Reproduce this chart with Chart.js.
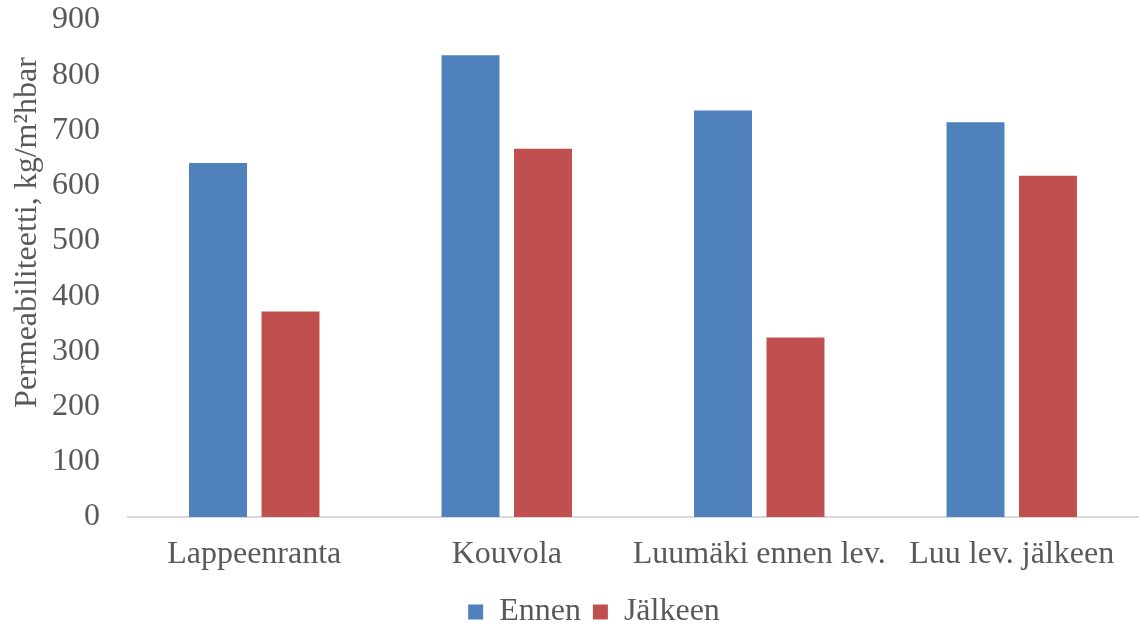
<!DOCTYPE html>
<html><head><meta charset="utf-8">
<script src="https://cdn.jsdelivr.net/npm/chart.js@4/dist/chart.umd.min.js"></script>
<style>html,body{margin:0;padding:0;background:#fff}#wrap{width:1139px;height:628px}</style>
</head><body><div id="wrap"><canvas id="c" width="1139" height="628"></canvas></div>
<script>
const categories = ["Lappeenranta", "Kouvola", "Luumäki ennen lev.", "Luu lev. jälkeen"];
const ennen = [641, 836, 736, 715];
const jalkeen = [372, 667, 325, 618];
const yTicks = [0, 100, 200, 300, 400, 500, 600, 700, 800, 900];
const font = "'Liberation Serif', 'Times New Roman', serif";
const txt = "#595959";
const legendShift = {
  id: 'legendShift',
  afterLayout(chart) {
    const lg = chart.legend;
    lg.left += 50;
    lg.top += 10; lg.bottom += 10;
  }
};
new Chart(document.getElementById('c'), {
  type: 'bar',
  data: {
    labels: categories,
    datasets: [
      {label: 'Ennen', data: ennen, backgroundColor: '#4F81BD', categoryPercentage: 0.574, barPercentage: 0.8},
      {label: 'Jälkeen', data: jalkeen, backgroundColor: '#C0504D', categoryPercentage: 0.574, barPercentage: 0.8}
    ]
  },
  plugins: [legendShift],
  options: {
    responsive: false, animation: false,
    layout: {padding: {top: 0, right: 1, left: 0, bottom: 0}},
    plugins: {
      tooltip: {enabled: false},
      legend: {position: 'bottom', labels: {font: {family: font, size: 32}, color: txt, boxWidth: 15, boxHeight: 15, padding: 12}}
    },
    scales: {
      x: {
        grid: {display: false, drawTicks: false},
        border: {display: true, color: '#d9d9d9', width: 2},
        ticks: {font: {family: font, size: 32}, color: txt, padding: 18, maxRotation: 0, autoSkip: false},
        afterFit: s => { s.height = 57; }
      },
      y: {
        min: 0, max: 900,
        afterBuildTicks: s => { s.ticks = yTicks.map(v => ({value: v})); },
        grid: {display: false, drawTicks: false},
        border: {display: false},
        ticks: {font: {family: font, size: 32}, color: txt, padding: 28},
        title: {display: true, text: '\u00A0\u00A0\u00A0\u00A0\u00A0\u00A0\u00A0\u00A0\u00A0Permeabiliteetti, kg/m²hbar', font: {family: font, size: 32}, color: txt, padding: {top: 8, bottom: 0}},
        afterFit: s => { s.width = 128; s.paddingTop = 20; s.paddingBottom = 0; }
      }
    }
  }
});
</script></body></html>
